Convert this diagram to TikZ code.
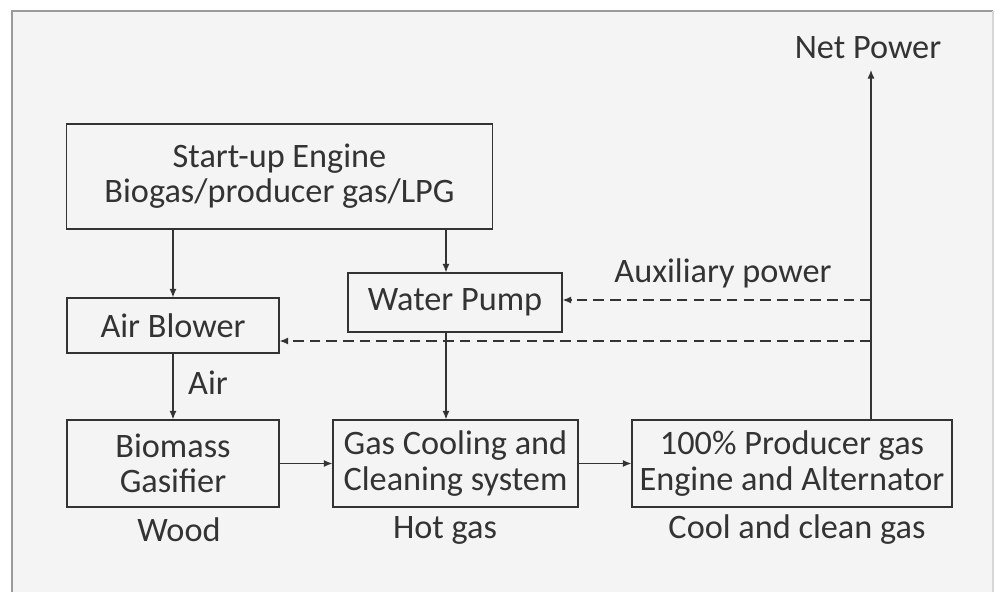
\documentclass[tikz,border=0pt]{standalone}
\usepackage{fontspec}
\setmainfont{Carlito}
\usepackage{tikz}
\usetikzlibrary{positioning,arrows.meta}
\usepackage{xcolor}
\definecolor{ink}{HTML}{333333}
\definecolor{paper}{HTML}{F4F4F4}
\definecolor{rim}{HTML}{9A9A9A}
\begin{document}
\begin{tikzpicture}[x=0.02cm,y=-0.02cm,>={Latex[length=1.7mm,width=1.4mm]},
  every node/.style={text=ink,font=\fontsize{19.5}{20}\selectfont},
  box/.style={draw=ink,line width=0.7pt,fill=paper,align=center,inner sep=0pt},
  flow/.style={->,draw=ink,line width=0.7pt},
  aux/.style={flow,dash pattern=on 6pt off 3.5pt}]
\useasboundingbox (0,0) rectangle (995,592);
\fill[white] (0,0) rectangle (995,592);
\fill[paper] (12,11) rectangle (993,592);
\draw[rim,line width=1.2pt] (12,592) -- (12,11) -- (993,11);
\draw[rim!40,line width=0.6pt] (993,11) -- (993,592);
% boxes
\node[box,minimum width=426*0.02cm,minimum height=105*0.02cm] (startup) at (279.5,176.5) {Start-up Engine\\Biogas/producer gas/LPG};
\node[box,minimum width=214*0.02cm,minimum height=59*0.02cm] (pump) at (455,302.5) {Water Pump};
\node[box,minimum width=212*0.02cm,minimum height=55*0.02cm] (blower) at (173,325.5) {Air Blower};
\node[box,minimum width=212*0.02cm,minimum height=87*0.02cm] (gasifier) at (173,463.5) {Biomass\\Gasifier};
\node[box,minimum width=245*0.02cm,minimum height=87*0.02cm] (cooling) at (455.5,463.5) {Gas Cooling and\\Cleaning system};
\node[box,minimum width=320*0.02cm,minimum height=87*0.02cm] (engine) at (792,463.5) {100\% Producer gas\\Engine and Alternator};
% labels
\node (netpow) at (868,48) {Net Power};
\node (auxpow) at (723,273) {Auxiliary power};
\node (air) at (208,383) {Air};
\node (wood) at (179,530) {Wood};
\node (hotgas) at (445,530) {Hot gas};
\node (coolgas) at (797,530) {Cool and clean gas};
\coordinate (tap) at (871,420);
\coordinate (top) at (871,70);
\coordinate (aux1) at (871,300);
\coordinate (aux2) at (871,341);
% connectors
\draw[flow] (startup.south -| blower.north) -- (blower.north);
\draw[flow] ([xshift=-1.8mm]startup.south -| pump.north) -- ([xshift=-1.8mm]pump.north);
\draw[flow] ([xshift=-1.8mm]pump.south) -- ([xshift=-1.8mm]pump.south |- cooling.north);
\draw[flow] (blower) -- (gasifier);
\draw[flow] (gasifier) -- (cooling);
\draw[flow] (cooling) -- (engine);
\draw[flow] (tap) -- (top);
\draw[aux] (aux1) -- (aux1 -| pump.east);
\draw[aux] (aux2) -- (aux2 -| blower.east);
\end{tikzpicture}
\end{document}
